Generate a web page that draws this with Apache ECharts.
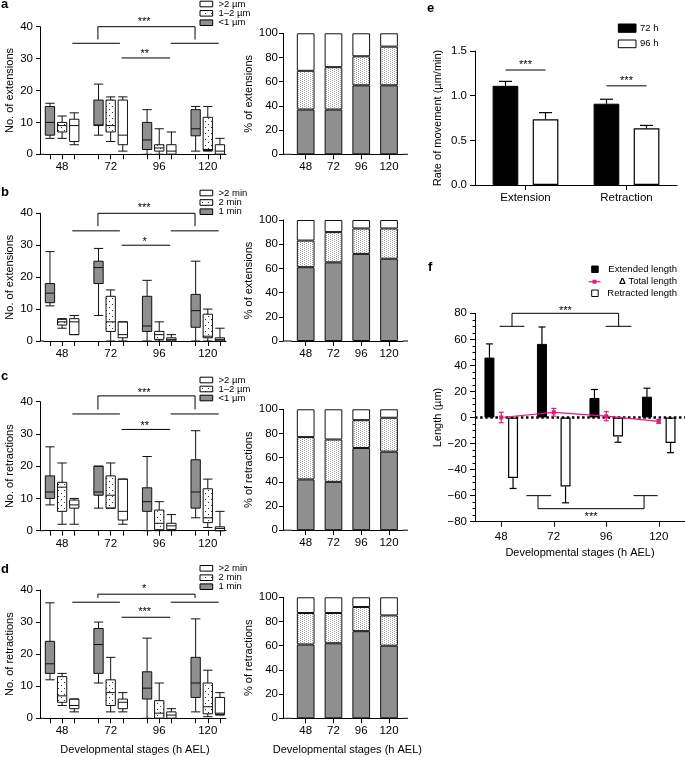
<!DOCTYPE html>
<html>
<head>
<meta charset="utf-8">
<script src="https://cdn.jsdelivr.net/npm/echarts@6.0.0/dist/echarts.min.js"></script>
<style>
html,body{margin:0;padding:0;background:#fff;}
#chart{width:685px;height:757px;}
</style>
</head>
<body>
<div id="chart"></div>
<script>
// ================= DATA =================
const stages = ['48', '72', '96', '120'];
const lengthClasses = ['<1 µm', '1–2 µm', '>2 µm'];
const durationClasses = ['1 min', '2 min', '>2 min'];

// Box plots: [min, Q1, median, Q3, max] for stages 48, 72, 96, 120
// a – No. of extensions by length
const aExtLt1  = [[5, 6, 10, 15, 16], [6, 9, 9.2, 17, 22], [0, 1.5, 4.5, 10, 14], [1, 5.8, 8, 14, 15]];
const aExt1to2 = [[5, 7, 9, 10, 12], [4, 7, 9, 17, 18], [0, 1, 2, 3, 8], [1, 1.2, 1.5, 11.6, 15]];
const aExtGt2  = [[3, 4, 9, 11, 13], [1, 3, 6, 17, 18], [0, 0, 1, 3, 7], [0, 0, 1, 3, 5]];
const aPctLt1  = [37, 37, 57, 57];
const aPct1to2 = [32, 35, 24, 32];
const aPctGt2  = [31, 28, 19, 11];

// b – No. of extensions by duration
const bExt1   = [[11, 12, 15, 18, 28], [8, 18, 23, 25, 29], [0, 3, 4.7, 14, 19], [0, 4.3, 9.5, 14.6, 25]];
const bExt2   = [[4, 5, 6, 6.8, 7], [0, 3, 6, 14, 16], [0, 0.5, 2, 3, 6], [0, 1, 1.5, 8.4, 10]];
const bExtGt2 = [[2, 2, 6, 7, 8], [0, 1, 2, 6, 6], [0, 0, 0.5, 1, 2], [0, 0, 0.5, 1, 4]];
const bPct1   = [61, 65, 72, 68];
const bPct2   = [22, 25, 21, 25];
const bPctGt2 = [17, 10, 7, 7];

// c – No. of retractions by length
const cRetLt1  = [[8, 10, 12, 17, 26], [7, 11, 12, 20, 20], [0, 6, 9, 13.3, 23], [4, 7, 12, 22, 31]];
const cRet1to2 = [[2, 6, 13.5, 15, 21], [7, 7, 11, 17, 21], [0, 0.3, 2.3, 6.4, 9], [1, 2.5, 4, 13, 16]];
const cRetGt2  = [[2, 7, 8, 9.5, 10], [2, 3.3, 6, 16, 16], [0, 0.4, 1.5, 2.3, 5], [0, 0, 0.7, 1.2, 6]];
const cPctLt1  = [42, 40, 68, 65];
const cPct1to2 = [35, 35, 23, 28];
const cPctGt2  = [23, 25, 9, 7];

// d – No. of retractions by duration
const dRet1   = [[12, 14, 17, 24, 36], [11, 14, 23, 28, 30], [0, 6, 9.4, 14.5, 25], [2, 6.5, 11, 19, 31]];
const dRet2   = [[4, 5, 7, 13, 14], [2, 4, 8, 12, 19], [0, 0, 1.6, 5.5, 11], [0.5, 1.4, 3.6, 11, 15]];
const dRetGt2 = [[2, 3, 4, 6, 6], [2, 3, 5, 6, 8], [0, 0, 1, 2, 3], [1, 1.2, 1.6, 6.5, 8]];
const dPct1   = [61, 62, 72, 60];
const dPct2   = [26, 25, 20, 25];
const dPctGt2 = [13, 13, 8, 15];

// significance labels
const sigOuter = ['***', '***', '***', '*'];
const sigInner = ['**', '*', '**', '***'];

// e – rate of movement
const moveTypes = ['Extension', 'Retraction'];
const rateSeriesNames = ['72 h', '96 h'];
const rate72h = [1.11, 0.91];
const rate72hErr = [0.05, 0.05];
const rate96h = [0.735, 0.634];
const rate96hErr = [0.075, 0.033];
const sigE = ['***', '***'];

// f – lengths
const extendedLen = [46, 56.5, 15, 16];
const extendedErr = [10.5, 13, 6.5, 6.5];
const retractedLen = [-46.5, -53, -14.5, -19.5];
const retractedErr = [8, 12.5, 4.5, 7.5];
const totalLen = [0, 4, 1, -3];
const totalErr = [4, 3, 3.5, 1.5];
const sigF = ['***', '***'];

// ================= LAYOUT / STYLE =================
const FONT = '"Liberation Sans", Arial, Helvetica, sans-serif';
const GRAY = '#8f8f8f';
const PINK = '#e8177d';
const BOX = {axisX: 40, left: 43.9, width: 182.1, boxW: 9.3};
const ST = {axisX: 283, left: 291.8, width: 111.1, axisEnd: 408, barW: 17.7};
const ROWS = [
  {boxTop: 26.7, boxH: 127.6, stTop: 33.3, stH: 121, labelY: 4, legendY: [4, 13.3, 22.7]},
  {boxTop: 213.3, boxH: 127.7, stTop: 220, stH: 121, labelY: 192, legendY: [193, 202.5, 211.7]},
  {boxTop: 401.7, boxH: 129, stTop: 409.3, stH: 120.9, labelY: 376, legendY: [380, 389, 398]},
  {boxTop: 590, boxH: 128.3, stTop: 597.3, stH: 121, labelY: 569, legendY: [568.3, 577.7, 586.7]}
];
const BRACKETS = [
  {T: 40, L: 36, M: 34.8, N: 30.2, outerStar: 42.4, innerStar: 32.2},
  {T: 40, L: 36, M: 34.5, N: 30, outerStar: 42.3, innerStar: 31.9},
  {T: 41.8, L: 37.6, M: 36.2, N: 31.4, outerStar: 43.6, innerStar: 33.3},
  {T: 38.7, L: 37.5, M: 36.2, N: 31.5, outerStar: 41, innerStar: 33.8}
];
const BR_X = {top: [3.95, 11.95], lowL: [1.84, 5.76], lowR: [9.95, 13.9], inner: [5.9, 9.9]};
const E_SIG = [{y: 1.287, star: 1.369}, {y: 1.11, star: 1.187}];

function makePattern(w, h, dots, color) {
  const cv = document.createElement('canvas');
  cv.width = w; cv.height = h;
  const ctx = cv.getContext('2d');
  ctx.fillStyle = '#fff'; ctx.fillRect(0, 0, w, h);
  ctx.fillStyle = color;
  dots.forEach(d => ctx.fillRect(d[0], d[1], 1, 1));
  return cv;
}
const boxDots = {image: makePattern(6, 6, [[1, 1], [4, 4]], '#333'), repeat: 'repeat'};
const barDots = {image: makePattern(4, 2, [[0, 0], [2, 1]], '#a0a0a0'), repeat: 'repeat'};

const boxStyles = [
  {color: GRAY, borderColor: '#111', borderWidth: 1},
  {color: boxDots, borderColor: '#111', borderWidth: 1},
  {color: '#fff', borderColor: '#111', borderWidth: 1}
];
const barStyles = [
  {color: GRAY, borderColor: '#111', borderWidth: 1},
  {color: barDots, borderColor: '#111', borderWidth: 1},
  {color: '#fff', borderColor: '#111', borderWidth: 1}
];

const LINE = {show: true, onZero: false, lineStyle: {color: '#000', width: 1}};
const tick = (len, extra) => Object.assign({show: true, length: len, lineStyle: {color: '#000', width: 1}}, extra || {});
const label = (margin, extra) => Object.assign({color: '#000', fontSize: 11.5, fontFamily: FONT, margin: margin}, extra || {});
const NAME = {color: '#000', fontSize: 11, fontFamily: FONT};
const XTITLE = 'Developmental stages (h AEL)';

// slots for box plot x axis: 3 boxes per stage with an empty slot between stages
const slots = [];
stages.forEach((s, i) => {
  for (let g = 0; g < 3; g++) slots.push(s + '|' + g);
  if (i < stages.length - 1) slots.push('gap-' + i);
});
const isGap = v => v.indexOf('gap-') === 0;
const isMid = v => !isGap(v) && v.split('|')[1] === '1';

function boxData(groups) {
  return slots.map(name => {
    if (isGap(name)) return {value: ['-', '-', '-', '-', '-']};
    const parts = name.split('|');
    const si = stages.indexOf(parts[0]);
    const g = +parts[1];
    return {value: groups[g][si], itemStyle: boxStyles[g]};
  });
}

const boxSets = [[aExtLt1, aExt1to2, aExtGt2], [bExt1, bExt2, bExtGt2], [cRetLt1, cRet1to2, cRetGt2], [dRet1, dRet2, dRetGt2]];
const pctSets = [[aPctLt1, aPct1to2, aPctGt2], [bPct1, bPct2, bPctGt2], [cPctLt1, cPct1to2, cPctGt2], [dPct1, dPct2, dPctGt2]];
const yNames = ['No. of extensions', 'No. of extensions', 'No. of retractions', 'No. of retractions'];
const pctNames = ['% of extensions', '% of extensions', '% of retractions', '% of retractions'];
const legendSets = [lengthClasses, durationClasses, lengthClasses, durationClasses];
const panelLetters = ['a', 'b', 'c', 'd'];

const grid = [], xAxis = [], yAxis = [], series = [];

ROWS.forEach((L, r) => {
  const gb = 2 * r, gs = 2 * r + 1;
  grid.push({left: BOX.left, top: L.boxTop, width: BOX.width, height: L.boxH});
  grid.push({left: ST.left, top: L.stTop, width: ST.width, height: L.stH});
  xAxis.push({
    type: 'category', gridIndex: gb, data: slots, boundaryGap: true,
    axisLine: LINE,
    axisTick: tick(5, {alignWithLabel: true, interval: (i, v) => !isGap(v)}),
    axisLabel: label(7, {interval: (i, v) => isMid(v), formatter: v => (isMid(v) ? v.split('|')[0] : '')}),
    splitLine: {show: false},
    name: r === 3 ? XTITLE : '', nameLocation: 'middle', nameGap: 26, nameTextStyle: NAME
  });
  yAxis.push({
    type: 'value', gridIndex: gb, min: 0, max: 40, interval: 10, offset: BOX.left - BOX.axisX,
    axisLine: LINE, axisTick: tick(4), axisLabel: label(7), splitLine: {show: false},
    name: yNames[r], nameLocation: 'middle', nameGap: 25, nameTextStyle: NAME
  });
  xAxis.push({
    type: 'category', gridIndex: gs, data: stages, boundaryGap: true,
    axisLine: LINE, axisTick: tick(5, {alignWithLabel: true}), axisLabel: label(7),
    splitLine: {show: false},
    name: r === 3 ? XTITLE : '', nameLocation: 'middle', nameGap: 26, nameTextStyle: NAME
  });
  yAxis.push({
    type: 'value', gridIndex: gs, min: 0, max: 100, interval: 20, offset: ST.left - ST.axisX,
    axisLine: LINE, axisTick: tick(4), axisLabel: label(5), splitLine: {show: false},
    name: pctNames[r], nameLocation: 'middle', nameGap: 24, nameTextStyle: NAME
  });
  series.push({
    type: 'boxplot', xAxisIndex: gb, yAxisIndex: gb, data: boxData(boxSets[r]),
    boxWidth: [BOX.boxW, BOX.boxW], silent: true, emphasis: {disabled: true},
    itemStyle: {borderColor: '#111', borderWidth: 1}
  });
  pctSets[r].forEach((vals, g) => {
    series.push({
      type: 'bar', xAxisIndex: gs, yAxisIndex: gs, stack: 'pct' + r, data: vals,
      barWidth: ST.barW, itemStyle: barStyles[g], silent: true, emphasis: {disabled: true}
    });
  });
});

// ----- panel e (grid 8) -----
grid.push({left: 475, top: 51, width: 202, height: 134});
xAxis.push({
  type: 'category', gridIndex: 8, data: moveTypes, axisLine: LINE,
  axisTick: tick(5, {alignWithLabel: true}), axisLabel: label(7), splitLine: {show: false}
});
yAxis.push({
  type: 'value', gridIndex: 8, min: 0, max: 1.5, interval: 0.5,
  axisLine: LINE, axisTick: tick(5), axisLabel: label(8, {formatter: v => v.toFixed(1)}), splitLine: {show: false},
  name: 'Rate of movement (µm/min)', nameLocation: 'middle', nameGap: 32, nameTextStyle: NAME
});
const E_BAR_W = 25.7, E_OFF = 20;
series.push({type: 'bar', xAxisIndex: 8, yAxisIndex: 8, name: rateSeriesNames[0], data: rate72h, barWidth: E_BAR_W, barGap: '56%',
  itemStyle: {color: '#000', borderColor: '#000', borderWidth: 1}, silent: true, emphasis: {disabled: true}});
series.push({type: 'bar', xAxisIndex: 8, yAxisIndex: 8, name: rateSeriesNames[1], data: rate96h, barWidth: E_BAR_W, barGap: '56%',
  itemStyle: {color: '#fff', borderColor: '#000', borderWidth: 1.2}, silent: true, emphasis: {disabled: true}});

function errSeries(gi, values, errs, offset, dir, color, cap) {
  return {
    type: 'custom', xAxisIndex: gi, yAxisIndex: gi, z: 6, silent: true,
    data: values.map((v, i) => [i, v, errs[i]]),
    encode: {x: 0, y: 1},
    renderItem: function (params, api) {
      const i = api.value(0), v = api.value(1), e = api.value(2);
      const base = api.coord([i, v]);
      const x = base[0] + offset;
      const ends = dir === 'both' ? [v + e, v - e] : (dir === 'up' ? [v + e] : [v - e]);
      const kids = [];
      ends.forEach(en => {
        const p = api.coord([i, en]);
        kids.push({type: 'line', shape: {x1: x, y1: base[1], x2: x, y2: p[1]}, style: {stroke: color, lineWidth: 1.2}});
        kids.push({type: 'line', shape: {x1: x - cap, y1: p[1], x2: x + cap, y2: p[1]}, style: {stroke: color, lineWidth: 1.2}});
      });
      return {type: 'group', children: kids};
    }
  };
}
series.push(errSeries(8, rate72h, rate72hErr, -E_OFF, 'up', '#000', 6.5));
series.push(errSeries(8, rate96h, rate96hErr, E_OFF, 'up', '#000', 6.5));

// ----- panel f (grid 9) -----
grid.push({left: 475, top: 313.3, width: 210, height: 208.4});
xAxis.push({
  type: 'category', gridIndex: 9, data: stages, axisLine: LINE,
  axisTick: tick(5, {alignWithLabel: true}), axisLabel: label(9), splitLine: {show: false},
  name: XTITLE, nameLocation: 'middle', nameGap: 26, nameTextStyle: NAME
});
yAxis.push({
  type: 'value', gridIndex: 9, min: -80, max: 80, interval: 20,
  axisLine: LINE, axisTick: tick(5), minorTick: {show: true, splitNumber: 4, length: 2.5, lineStyle: {color: '#000', width: 1}},
  axisLabel: label(8, {formatter: v => (v < 0 ? '\u2212' + (-v) : String(v))}), splitLine: {show: false},
  name: 'Length (µm)', nameLocation: 'middle', nameGap: 32, nameTextStyle: NAME
});
const F_BAR_W = 10, F_OFF = 11.8;
series.push({type: 'bar', xAxisIndex: 9, yAxisIndex: 9, name: 'Extended length', data: extendedLen, barWidth: F_BAR_W, barGap: '136%',
  itemStyle: {color: '#000', borderColor: '#000', borderWidth: 1}, silent: true, emphasis: {disabled: true},
  markLine: {silent: true, symbol: 'none', label: {show: false}, z: 5,
    lineStyle: {color: '#000', type: [2.5, 2.6], width: 2.6}, data: [{yAxis: 0}]}});
series.push({type: 'bar', xAxisIndex: 9, yAxisIndex: 9, name: 'Retracted length', data: retractedLen, barWidth: F_BAR_W, barGap: '136%',
  itemStyle: {color: '#fff', borderColor: '#000', borderWidth: 1.2}, silent: true, emphasis: {disabled: true}});
series.push({type: 'line', xAxisIndex: 9, yAxisIndex: 9, name: 'Total length', data: totalLen, z: 7,
  symbol: 'rect', symbolSize: 4, showSymbol: true, lineStyle: {color: PINK, width: 1.2}, itemStyle: {color: PINK},
  silent: true, emphasis: {disabled: true}});
series.push(errSeries(9, extendedLen, extendedErr, -F_OFF, 'up', '#000', 3.5));
series.push(errSeries(9, retractedLen, retractedErr, F_OFF, 'down', '#000', 3.5));
series.push(Object.assign(errSeries(9, totalLen, totalErr, 0, 'both', PINK, 2.5), {z: 8}));

const chart = echarts.init(document.getElementById('chart'));
chart.setOption({animation: false, backgroundColor: '#fff', textStyle: {fontFamily: FONT}, grid, xAxis, yAxis, series});

// ================= ANNOTATIONS (via axis conversion) =================
const G = [];
function px(gi, xf, y) {
  const a = chart.convertToPixel({gridIndex: gi}, [0, y]);
  const b = chart.convertToPixel({gridIndex: gi}, [1, y]);
  return [a[0] + xf * (b[0] - a[0]), a[1]];
}
function seg(p, q, w) { G.push({type: 'line', silent: true, z: 50, shape: {x1: p[0], y1: p[1], x2: q[0], y2: q[1]}, style: {stroke: '#000', lineWidth: w || 1}}); }
function txt(x, y, t, o) {
  G.push({type: 'text', silent: true, z: 50, x: x, y: y,
    style: Object.assign({text: t, fill: '#000', fontFamily: FONT, fontSize: 11, align: 'center', verticalAlign: 'middle'}, o || {})});
}
function rect(x, y, w, h, fill) {
  G.push({type: 'rect', silent: true, z: 50, shape: {x: x, y: y, width: w, height: h}, style: {fill: fill, stroke: '#000', lineWidth: 1}});
}

ROWS.forEach((L, r) => {
  const gb = 2 * r, gs = 2 * r + 1;
  const B = BRACKETS[r];
  const y0b = px(gb, 0, 0)[1];
  seg([BOX.axisX, y0b], [BOX.left, y0b]);
  const y0s = px(gs, 0, 0)[1];
  seg([ST.axisX, y0s], [ST.left, y0s]);
  seg([ST.left + ST.width, y0s], [ST.axisEnd, y0s]);
  seg(px(gb, BR_X.top[0], B.T), px(gb, BR_X.top[1], B.T));
  seg(px(gb, BR_X.top[0], B.T), px(gb, BR_X.top[0], B.L));
  seg(px(gb, BR_X.top[1], B.T), px(gb, BR_X.top[1], B.L));
  seg(px(gb, BR_X.lowL[0], B.M), px(gb, BR_X.lowL[1], B.M));
  seg(px(gb, BR_X.lowR[0], B.M), px(gb, BR_X.lowR[1], B.M));
  seg(px(gb, BR_X.inner[0], B.N), px(gb, BR_X.inner[1], B.N));
  const so = px(gb, (BR_X.top[0] + BR_X.top[1]) / 2 - 0.2, B.outerStar);
  txt(so[0], so[1] + 2.5, sigOuter[r]);
  const si = px(gb, (BR_X.inner[0] + BR_X.inner[1]) / 2 - 0.1, B.innerStar);
  txt(si[0], si[1] + 2.5, sigInner[r]);
  const fills = ['#fff', boxDots, GRAY];
  const names = legendSets[r].slice().reverse();
  L.legendY.forEach((yc, k) => {
    rect(200, yc - 2.8, 12.7, 5.6, fills[k]);
    txt(218.5, yc, names[k], {align: 'left', fontSize: 9.5});
  });
  txt(1, L.labelY, panelLetters[r], {align: 'left', fontSize: 13, fontWeight: 'bold'});
});

// panel e annotations
E_SIG.forEach((s, c) => {
  const p = px(8, c, s.y);
  seg([p[0] - E_OFF, p[1]], [p[0] + E_OFF, p[1]]);
  const q = px(8, c, s.star);
  txt(q[0], q[1] + 2.5, sigE[c]);
});
rect(618.3, 24, 17.7, 8.3, '#000');
rect(618.3, 40, 17.7, 7.7, '#fff');
txt(640, 28.2, rateSeriesNames[0], {align: 'left', fontSize: 9.5});
txt(640, 43.8, rateSeriesNames[1], {align: 'left', fontSize: 9.5});
txt(427, 8, 'e', {align: 'left', fontSize: 13, fontWeight: 'bold'});

// panel f annotations (category-fraction positions)
const FB = {topY: 80, topLeg: 70, top: [0.205, 2.236], topL: [-0.03, 0.44], topR: [1.99, 2.48], topStar: 83.7,
            botY: -70, botLeg: -60, bot: [0.70, 2.72], botL: [0.48, 0.95], botR: [2.52, 2.98], botStar: -74.2};
seg(px(9, FB.top[0], FB.topY), px(9, FB.top[1], FB.topY));
seg(px(9, FB.top[0], FB.topY), px(9, FB.top[0], FB.topLeg));
seg(px(9, FB.top[1], FB.topY), px(9, FB.top[1], FB.topLeg));
seg(px(9, FB.topL[0], FB.topLeg), px(9, FB.topL[1], FB.topLeg));
seg(px(9, FB.topR[0], FB.topLeg), px(9, FB.topR[1], FB.topLeg));
let st = px(9, (FB.top[0] + FB.top[1]) / 2, FB.topStar); txt(st[0], st[1] + 2.5, sigF[0]);
seg(px(9, FB.bot[0], FB.botY), px(9, FB.bot[1], FB.botY));
seg(px(9, FB.bot[0], FB.botY), px(9, FB.bot[0], FB.botLeg));
seg(px(9, FB.bot[1], FB.botY), px(9, FB.bot[1], FB.botLeg));
seg(px(9, FB.botL[0], FB.botLeg), px(9, FB.botL[1], FB.botLeg));
seg(px(9, FB.botR[0], FB.botLeg), px(9, FB.botR[1], FB.botLeg));
st = px(9, (FB.bot[0] + FB.bot[1]) / 2, FB.botStar); txt(st[0], st[1] + 2.5, sigF[1]);

rect(591.7, 266, 6.5, 6.5, '#000');
G.push({type: 'line', silent: true, z: 50, shape: {x1: 588.5, y1: 281.7, x2: 600.5, y2: 281.7}, style: {stroke: PINK, lineWidth: 1.2}});
G.push({type: 'rect', silent: true, z: 51, shape: {x: 592.5, y: 279.7, width: 4, height: 4}, style: {fill: PINK}});
rect(591.7, 290, 6.5, 6.5, '#fff');
txt(677, 269.3, 'Extended length', {align: 'right', fontSize: 9.5});
G.push({type: 'text', silent: true, z: 50, x: 677, y: 281.7,
  style: {text: '{b|Δ} Total length', fill: '#000', fontFamily: FONT, fontSize: 9.5, align: 'right', verticalAlign: 'middle',
    rich: {b: {fontWeight: 'bold', fontSize: 9.5, fontFamily: FONT, fill: '#000'}}}});
txt(677, 293.3, 'Retracted length', {align: 'right', fontSize: 9.5});
txt(428, 267, 'f', {align: 'left', fontSize: 13, fontWeight: 'bold'});

chart.setOption({graphic: G});
</script>
</body>
</html>
